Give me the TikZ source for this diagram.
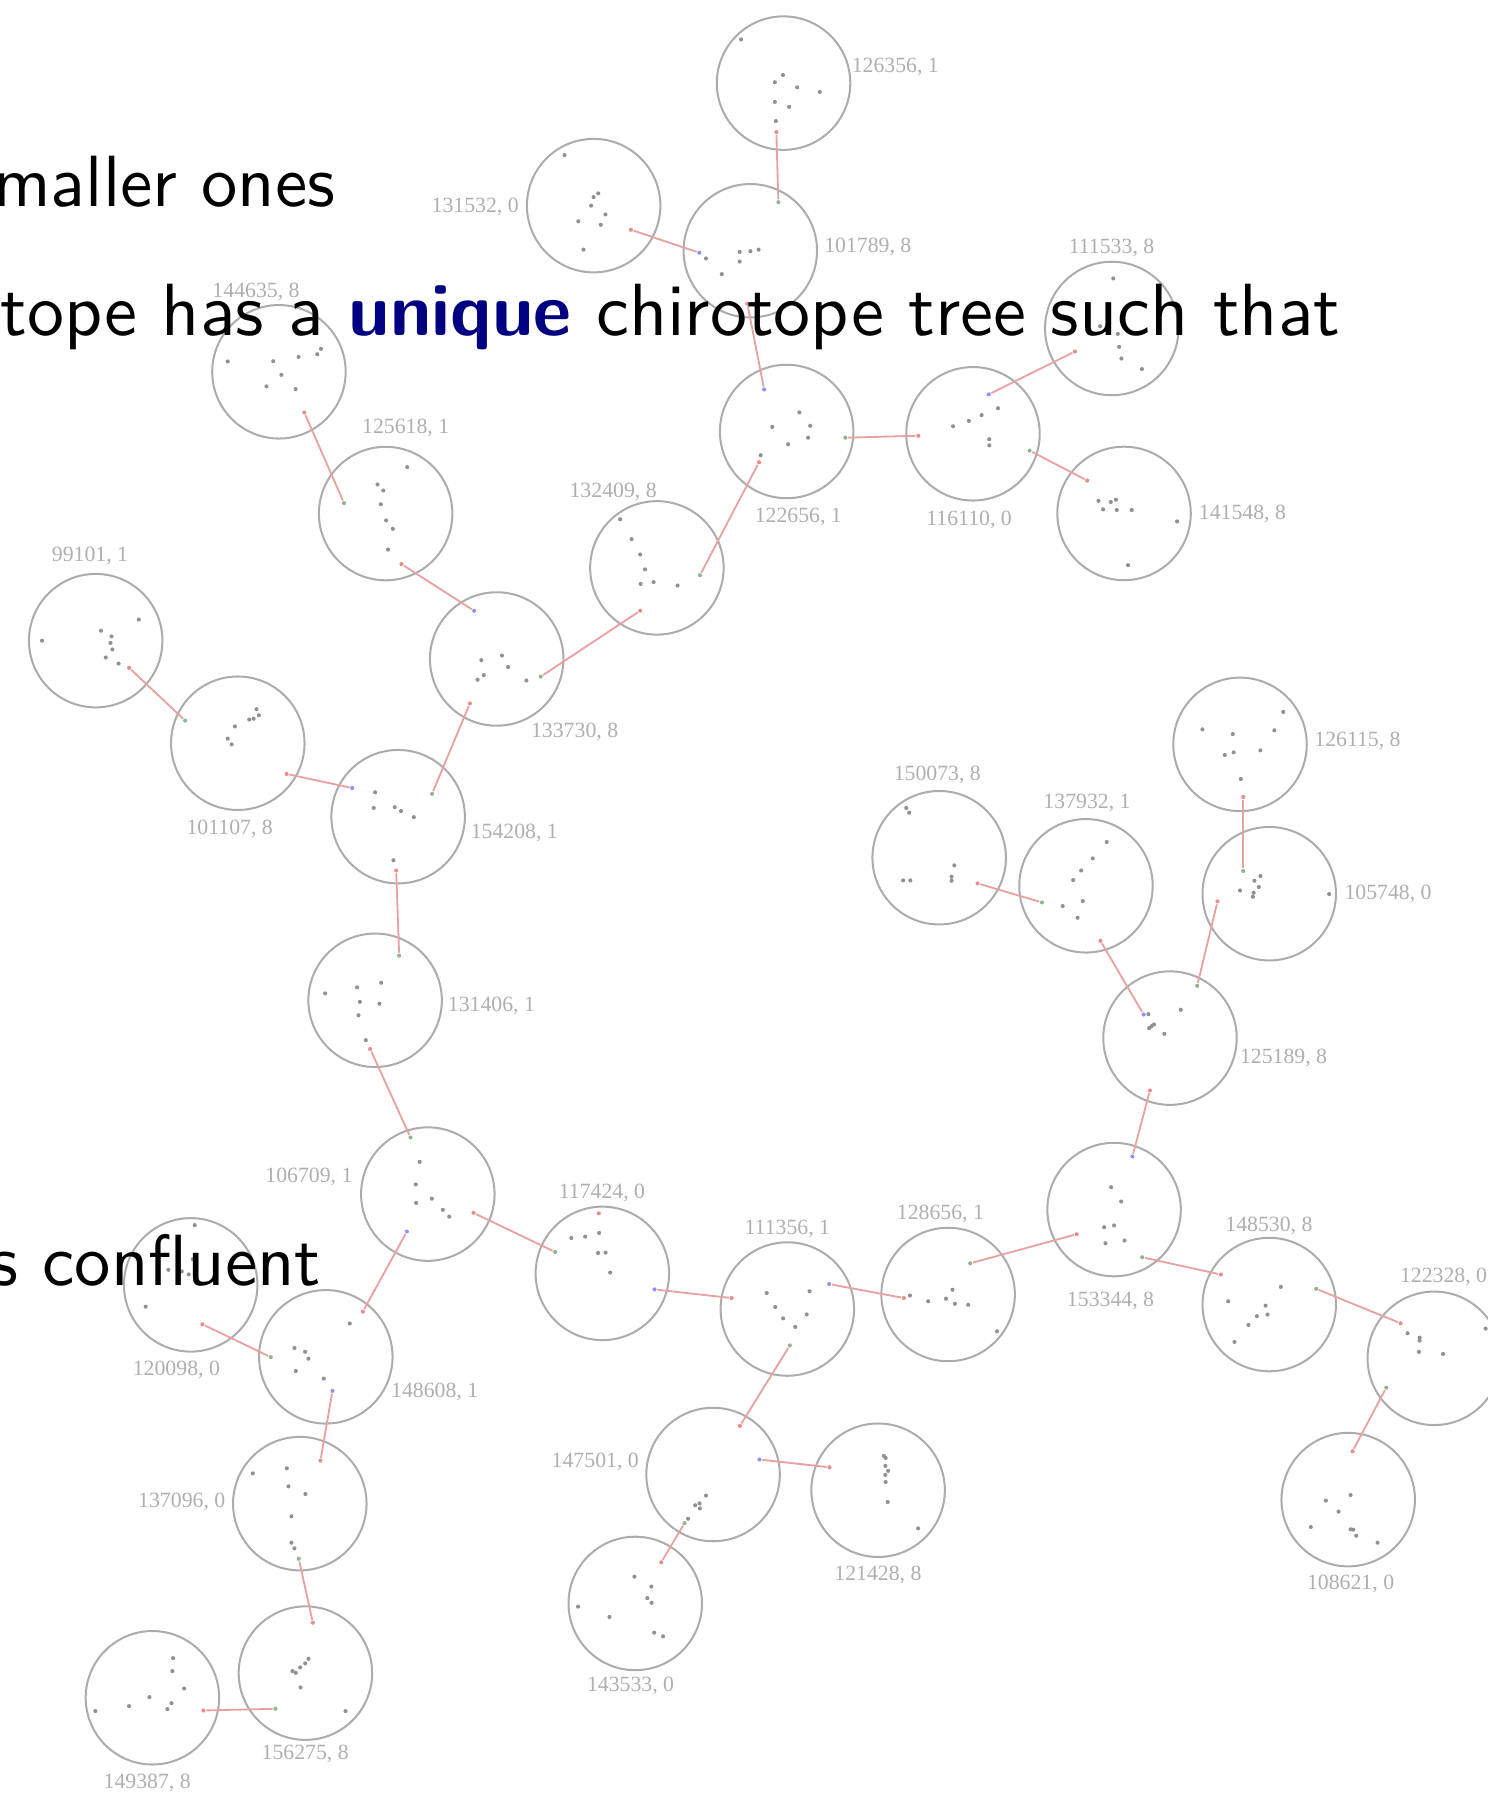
\documentclass[tikz,border=0pt]{standalone}
\usepackage{fontspec}
\usepackage{graphicx}
\newfontfamily\labelfont{Liberation Serif}

\definecolor{ringgray}{RGB}{172,172,172}
\definecolor{dotgray}{RGB}{145,145,145}
\definecolor{labelgray}{RGB}{175,175,175}
\definecolor{edgepink}{RGB}{232,160,160}
\definecolor{dotpink}{RGB}{232,140,140}
\definecolor{dotgreen}{RGB}{145,180,145}
\definecolor{dotblue}{RGB}{145,145,250}
\definecolor{navy}{RGB}{0,0,128}

\tikzset{
  chiro/.style={circle, draw=ringgray, line width=0.5pt, minimum size=1.164cm, inner sep=0pt},
  lbl/.style={font=\labelfont\fontsize{5.4}{6}\selectfont, text=labelgray, inner sep=0pt},
  pinkpt/.style={circle, fill=dotpink, minimum size=0.036cm, inner sep=0pt},
  greenpt/.style={circle, fill=dotgreen, minimum size=0.036cm, inner sep=0pt},
  bluept/.style={circle, fill=dotblue, minimum size=0.036cm, inner sep=0pt},
  edge/.style={draw=edgepink, line width=0.45pt},
  slide/.style={font=\sffamily\fontsize{10}{12}\selectfont, inner sep=0pt, anchor=base east}
}

\begin{document}
\begin{tikzpicture}[x=0.01cm, y=-0.01cm]
    \useasboundingbox (0,0) rectangle (1298,1568);

    % 126356
    \node[chiro] (c126356) at (683.7,72.5) {};
    \node[lbl] (l126356) at (781.2,58.5) {126356, 1};
    \foreach \p in {(646.6,34.4),(683.2,65.5),(676.1,71.8),(695.6,76.2),(715.3,80.2),(676.1,88.9),(688.6,93.2),(677,105.6)}
        \fill[dotgray] \p circle (1.8);
    \node[pinkpt] (p126356) at (677.4,115.3) {};

    % 101789
    \node[chiro] (c101789) at (654.7,218.8) {};
    \node[lbl] (l101789) at (757.2,215.5) {101789, 8};
    \foreach \p in {(616,225.5),(645.4,219.8),(654.8,219.2),(661.9,217.8),(645.4,228.2),(629.8,239.2)}
        \fill[dotgray] \p circle (1.8);
    \node[greenpt] (g101789) at (679.2,176.4) {};
    \node[bluept] (b101789) at (610.2,220.5) {};
    \node[pinkpt] (p101789) at (652.1,265) {};

    % 131532
    \node[chiro] (c131532) at (518,179.4) {};
    \node[lbl] (l131532) at (414.6,180.4) {131532, 0};
    \foreach \p in {(492.6,135.3),(522,168.7),(518,172),(515.8,179.4),(528.3,187.1),(504.6,193.1),(524.2,196.1),(509.1,217.8)}
        \fill[dotgray] \p circle (1.8);
    \node[pinkpt] (p131532) at (550.5,200.5) {};

    % 111533
    \node[chiro] (c111533) at (970.1,286.6) {};
    \node[lbl] (l111533) at (969.9,216.5) {111533, 8};
    \foreach \p in {(971.4,242.9),(959.9,284.6),(975.4,291.3),(976.5,302.6),(978.5,312.8),(996.4,322)}
        \fill[dotgray] \p circle (1.8);
    \node[pinkpt] (p111533) at (938,306.7) {};

    % 122656
    \node[chiro] (c122656) at (686.4,376.5) {};
    \node[lbl] (l122656) at (696.6,451) {122656, 1};
    \foreach \p in {(697.5,359.8),(673.9,372.5),(706.9,371.5),(705.1,381.9),(687.7,387.6),(663.7,397.2)}
        \fill[dotgray] \p circle (1.8);
    \node[bluept] (b122656) at (666.8,339.8) {};
    \node[greenpt] (g122656) at (737.6,381.9) {};
    \node[pinkpt] (p122656) at (662.3,403.3) {};

    % 116110
    \node[chiro] (c116110) at (849,378.5) {};
    \node[lbl] (l116110) at (845.6,453.4) {116110, 0};
    \foreach \p in {(870.8,356.2),(856.5,362.2),(845.4,367.2),(831.6,371.9),(863.2,383.2),(863.2,388.6)}
        \fill[dotgray] \p circle (1.8);
    \node[pinkpt] (p116110) at (801.3,380.2) {};
    \node[bluept] (b116110) at (862.7,344.1) {};
    \node[greenpt] (g116110) at (898.4,393.2) {};

    % 141548
    \node[chiro] (c141548) at (980.8,448) {};
    \node[lbl] (l141548) at (1084.1,448.7) {141548, 8};
    \foreach \p in {(958.5,437),(969.2,438),(973.7,436),(962.5,444.4),(974.5,445),(987.5,445),(1027.1,455),(984.3,493.1)}
        \fill[dotgray] \p circle (1.8);
    \node[pinkpt] (p141548) at (948.7,419.3) {};

    % 132409
    \node[chiro] (c132409) at (573.2,495.5) {};
    \node[lbl] (l132409) at (535,429.3) {132409, 8};
    \foreach \p in {(541.1,453.1),(551.1,470.4),(558.6,483.8),(562.8,496.8),(559,509.5),(570.3,507.9),(591.2,510.9)}
        \fill[dotgray] \p circle (1.8);
    \node[greenpt] (g132409) at (610.8,501.9) {};
    \node[pinkpt] (p132409) at (558.6,532.9) {};

    % 144635
    \node[chiro] (c144635) at (243.4,324.4) {};
    \node[lbl] (l144635) at (223.4,254.5) {144635, 8};
    \foreach \p in {(198.7,315.4),(238.4,315.1),(260.5,311.4),(276.8,309.1),(280.1,304.4),(245.5,327.1),(232.5,337.1),(258,339.5)}
        \fill[dotgray] \p circle (1.8);
    \node[pinkpt] (p144635) at (265.5,359.9) {};

    % 125618
    \node[chiro] (c125618) at (336.5,448.1) {};
    \node[lbl] (l125618) at (354,373.6) {125618, 1};
    \foreach \p in {(355.3,407.6),(329.4,422.7),(334.4,428),(332.3,440),(336.9,454.1),(342.8,461.4),(338.6,479.5)}
        \fill[dotgray] \p circle (1.8);
    \node[greenpt] (g125618) at (300.2,439) {};
    \node[pinkpt] (p125618) at (350.3,492.2) {};

    % 133730
    \node[chiro] (c133730) at (433.4,575) {};
    \node[lbl] (l133730) at (501.4,638.5) {133730, 8};
    \foreach \p in {(420,576),(438,572),(443.4,582),(422.1,589.1),(416.7,593.1),(459.3,593.8)}
        \fill[dotgray] \p circle (1.8);
    \node[bluept] (b133730) at (413.7,532.9) {};
    \node[greenpt] (g133730) at (471.8,590.4) {};
    \node[pinkpt] (p133730) at (410,613.8) {};

    % 99101
    \node[chiro] (c99101) at (83.5,559) {};
    \node[lbl] (l99101) at (78.5,485.5) {99101, 1};
    \foreach \p in {(36.7,559),(121.1,540.6),(88.1,550.3),(97.3,555.3),(96.4,561),(98.1,566.7),(92.3,573.7),(103.5,579)}
        \fill[dotgray] \p circle (1.8);
    \node[pinkpt] (p99101) at (112.7,582.7) {};

    % 101107
    \node[chiro] (c101107) at (207.5,648.5) {};
    \node[lbl] (l101107) at (200.4,723.4) {101107, 8};
    \foreach \p in {(223.8,618.8),(225.9,624.1),(221.3,627.1),(217.5,627.8),(205,633.8),(198.7,644.5),(202.1,649.5)}
        \fill[dotgray] \p circle (1.8);
    \node[greenpt] (g101107) at (161.6,628.8) {};
    \node[pinkpt] (p101107) at (250.1,675.3) {};

    % 154208
    \node[chiro] (c154208) at (347.4,712.6) {};
    \node[lbl] (l154208) at (448.8,726.7) {154208, 1};
    \foreach \p in {(327.3,691.3),(326.1,705),(344.4,704.3),(349.9,707.7),(361.1,713),(343.3,750.6)}
        \fill[dotgray] \p circle (1.8);
    \node[bluept] (b154208) at (307.3,687.6) {};
    \node[greenpt] (g154208) at (377,692.6) {};
    \node[pinkpt] (p154208) at (345.7,759.6) {};

    % 131406
    \node[chiro] (c131406) at (327.3,872.8) {};
    \node[lbl] (l131406) at (428.8,877.5) {131406, 1};
    \foreach \p in {(283.7,866.8),(311.6,861.5),(332.6,857.5),(314,874.2),(331.1,875.8),(312.8,885.9),(319.2,907.6)}
        \fill[dotgray] \p circle (1.8);
    \node[greenpt] (g131406) at (348.3,833.8) {};
    \node[pinkpt] (p131406) at (323,915.3) {};

    % 106709
    \node[chiro] (c106709) at (373.3,1041.9) {};
    \node[lbl] (l106709) at (269.6,1026.9) {106709, 1};
    \foreach \p in {(366.2,1013.8),(362.8,1033.5),(363.1,1049.6),(376.8,1045.9),(386.4,1055.6),(392,1061.6)}
        \fill[dotgray] \p circle (1.8);
    \node[greenpt] (g106709) at (358.2,992.5) {};
    \node[pinkpt] (p106709) at (413.2,1058.3) {};
    \node[bluept] (b106709) at (355,1074.6) {};

    % 120098
    \node[chiro] (c120098) at (166.4,1121.1) {};
    \node[lbl] (l120098) at (153.9,1195.6) {120098, 0};
    \foreach \p in {(169.9,1069),(168.2,1098.7),(146.9,1108),(158.6,1109.4),(164.7,1112),(127.1,1140.1)}
        \fill[dotgray] \p circle (1.8);
    \node[pinkpt] (p120098) at (176.6,1155.5) {};

    % 148608
    \node[chiro] (c148608) at (284.3,1183.9) {};
    \node[lbl] (l148608) at (379.3,1214.6) {148608, 1};
    \foreach \p in {(305.2,1154.8),(256.9,1176.2),(266.2,1179.5),(269.1,1185.5),(258.1,1196.3),(282.5,1202.9)}
        \fill[dotgray] \p circle (1.8);
    \node[greenpt] (g148608) at (236.3,1184.2) {};
    \node[pinkpt] (p148608) at (316.6,1144.5) {};
    \node[bluept] (b148608) at (290.1,1213.6) {};

    % 137096
    \node[chiro] (c137096) at (261.6,1312) {};
    \node[lbl] (l137096) at (158.6,1310.6) {137096, 0};
    \foreach \p in {(220.6,1285.6),(250.3,1281.2),(251.7,1296.9),(266.5,1303.6),(254.3,1323.1),(254.3,1346.1),(256.9,1351)}
        \fill[dotgray] \p circle (1.8);
    \node[pinkpt] (p137096) at (279.6,1274.5) {};
    \node[greenpt] (g137096) at (260.7,1360.1) {};

    % 156275
    \node[chiro] (c156275) at (266.5,1459.9) {};
    \node[lbl] (l156275) at (266.3,1530.3) {156275, 8};
    \foreach \p in {(269.2,1447.4),(266.3,1451.4),(261.9,1454.9),(255.2,1458.1),(258.1,1459.6),(262.2,1472.4),(301.5,1493)}
        \fill[dotgray] \p circle (1.8);
    \node[pinkpt] (p156275) at (273,1415.9) {};
    \node[greenpt] (g156275) at (240.4,1491) {};

    % 149387
    \node[chiro] (c149387) at (133,1481.4) {};
    \node[lbl] (l149387) at (128.4,1555.6) {149387, 8};
    \foreach \p in {(151,1446.8),(150.4,1458.1),(160.6,1473.3),(130.4,1480.8),(112.6,1488.7),(149.6,1486.1),(146.1,1491.3),(83.2,1493)}
        \fill[dotgray] \p circle (1.8);
    \node[pinkpt] (p149387) at (177.5,1492.5) {};

    % 117424
    \node[chiro] (c117424) at (525.6,1111.1) {};
    \node[lbl] (l117424) at (525.3,1040.6) {117424, 0};
    \foreach \p in {(498.5,1080.2),(510.6,1079),(522.8,1075.8),(521.8,1093.3),(528.4,1093),(532.4,1110.4)}
        \fill[dotgray] \p circle (1.8);
    \node[pinkpt] (p117424) at (522.5,1058.7) {};
    \node[greenpt] (g117424) at (484.4,1092.4) {};
    \node[bluept] (b117424) at (571.1,1125.1) {};

    % 111356
    \node[chiro] (c111356) at (687,1142.2) {};
    \node[lbl] (l111356) at (687,1072.1) {111356, 1};
    \foreach \p in {(669,1128.2),(706.4,1126.7),(676.5,1140.4),(703.9,1146.9),(683.3,1150.3),(693.9,1157.8)}
        \fill[dotgray] \p circle (1.8);
    \node[pinkpt] (p111356) at (638.4,1132.6) {};
    \node[bluept] (b111356) at (723.5,1120.4) {};
    \node[greenpt] (g111356) at (689.2,1174) {};

    % 128656
    \node[chiro] (c128656) at (827.3,1129.5) {};
    \node[lbl] (l128656) at (820.6,1059.3) {128656, 1};
    \foreach \p in {(794,1130.4),(831.1,1125.4),(809.9,1135.4),(825.4,1133.2),(833.2,1137.6),(844.8,1138.5),(870,1161.6)}
        \fill[dotgray] \p circle (1.8);
    \node[pinkpt] (p128656) at (788.7,1132.6) {};
    \node[greenpt] (g128656) at (846.6,1102.3) {};

    % 147501
    \node[chiro] (c147501) at (622.2,1286.6) {};
    \node[lbl] (l147501) at (519.4,1275.3) {147501, 0};
    \foreach \p in {(616,1305),(606.6,1313.4),(610.4,1311.8),(610.7,1316.2),(600.4,1325.2)}
        \fill[dotgray] \p circle (1.8);
    \node[pinkpt] (p147501) at (645.6,1244.2) {};
    \node[bluept] (b147501) at (662.7,1273.5) {};
    \node[greenpt] (g147501) at (597.3,1329) {};

    % 121428
    \node[chiro] (c121428) at (766.2,1300.3) {};
    \node[lbl] (l121428) at (766.1,1374.5) {121428, 8};
    \foreach \p in {(771.2,1270.4),(772.8,1272.2),(772.5,1279.1),(775,1283.4),(772.5,1286.9),(772.8,1293.1),(774.6,1310.6),(801.1,1333.6)}
        \fill[dotgray] \p circle (1.8);
    \node[pinkpt] (p121428) at (723.8,1280.3) {};

    % 143533
    \node[chiro] (c143533) at (554.3,1399.1) {};
    \node[lbl] (l143533) at (550.2,1470.8) {143533, 0};
    \foreach \p in {(553.6,1375.7),(568.3,1384.4),(564.9,1394.4),(568.6,1398.5),(504.4,1401.9),(531.8,1410.9),(570.8,1424.6),(578.6,1427.8)}
        \fill[dotgray] \p circle (1.8);
    \node[pinkpt] (p143533) at (577,1363.2) {};

    % 150073
    \node[chiro] (c150073) at (819.5,748.4) {};
    \node[lbl] (l150073) at (817.9,676.5) {150073, 8};
    \foreach \p in {(790.8,705),(793.3,709.1),(832.7,755.1),(788,768.2),(794.3,768.2),(830.3,765),(830.3,768.5)}
        \fill[dotgray] \p circle (1.8);
    \node[pinkpt] (p150073) at (853,770.8) {};

    % 137932
    \node[chiro] (c137932) at (947.6,772.9) {};
    \node[lbl] (l137932) at (948.5,700.7) {137932, 1};
    \foreach \p in {(965.7,734.7),(953.5,749),(943.4,759.5),(936.4,767.9),(927.3,790.6),(944.8,786.2),(940.3,800.8)}
        \fill[dotgray] \p circle (1.8);
    \node[greenpt] (g137932) at (909.2,787.4) {};
    \node[pinkpt] (p137932) at (960.2,820.9) {};

    % 126115
    \node[chiro] (c126115) at (1082,649.5) {};
    \node[lbl] (l126115) at (1184.5,646.6) {126115, 8};
    \foreach \p in {(1119.7,621.2),(1049.2,636.4),(1075.7,640.5),(1112,637.2),(1068.7,658.8),(1076.4,656.5),(1099.8,654.7),(1082.7,679.7)}
        \fill[dotgray] \p circle (1.8);
    \node[pinkpt] (p126115) at (1084.8,695.4) {};

    % 105748
    \node[chiro] (c105748) at (1107.5,779.8) {};
    \node[lbl] (l105748) at (1211.2,780.1) {105748, 0};
    \foreach \p in {(1099.8,764.4),(1094.6,768.5),(1098.4,774),(1082,777),(1093.9,779),(1093.2,782.5),(1159.8,780.1)}
        \fill[dotgray] \p circle (1.8);
    \node[greenpt] (g105748) at (1084.8,760) {};
    \node[pinkpt] (p105748) at (1062.4,786.5) {};

    % 125189
    \node[chiro] (c125189) at (1020.9,905.8) {};
    \node[lbl] (l125189) at (1120,923.3) {125189, 8};
    \foreach \p in {(1002,884.9),(1030.3,881.1),(1002.7,897.1),(1004.8,895.4),(1006.9,893.9),(1016,902.1)}
        \fill[dotgray] \p circle (1.8);
    \node[greenpt] (g125189) at (1044.6,860.2) {};
    \node[bluept] (b125189) at (997.9,885.2) {};
    \node[pinkpt] (p125189) at (1003.4,951.5) {};

    % 153344
    \node[chiro] (c153344) at (972.1,1055.4) {};
    \node[lbl] (l153344) at (969,1134.8) {153344, 8};
    \foreach \p in {(969.5,1035.9),(978.3,1048.4),(963.4,1070.8),(972.1,1069.3),(964.6,1084.8),(981.2,1082.4)}
        \fill[dotgray] \p circle (1.8);
    \node[bluept] (b153344) at (988.1,1009.1) {};
    \node[pinkpt] (p153344) at (939.5,1076.9) {};
    \node[greenpt] (g153344) at (996.6,1097) {};

    % 148530
    \node[chiro] (c148530) at (1107.5,1138.3) {};
    \node[lbl] (l148530) at (1107.2,1069.3) {148530, 8};
    \foreach \p in {(1117.6,1122.9),(1071.7,1135.4),(1104.3,1139.2),(1096.7,1148.5),(1106,1147),(1089.4,1156.1),(1077.2,1170.9)}
        \fill[dotgray] \p circle (1.8);
    \node[pinkpt] (p148530) at (1065.3,1112.1) {};
    \node[greenpt] (g148530) at (1148.5,1124.6) {};

    % 122328
    \node[chiro] (c122328) at (1251.5,1185.2) {};
    \node[lbl] (l122328) at (1259.6,1114.4) {122328, 0};
    \foreach \p in {(1228.2,1163.3),(1238.7,1167.1),(1238.7,1169.7),(1238.1,1179.6),(1259.1,1181.4),(1296.3,1159.3)}
        \fill[dotgray] \p circle (1.8);
    \node[pinkpt] (p122328) at (1222.1,1154.6) {};
    \node[greenpt] (g122328) at (1209.6,1210.8) {};

    % 108621
    \node[chiro] (c108621) at (1176.4,1308.5) {};
    \node[lbl] (l108621) at (1178.5,1382.2) {108621, 0};
    \foreach \p in {(1178.5,1304.5),(1156.9,1309.4),(1168,1319),(1143.8,1332.4),(1178.5,1334.4),(1180.8,1334.7),(1183.4,1340),(1202,1346.1)}
        \fill[dotgray] \p circle (1.8);
    \node[pinkpt] (p108621) at (1180.2,1266.3) {};

    % Tree edges
    \draw[edge] (p126356) -- (g101789);
    \draw[edge] (p131532) -- (b101789);
    \draw[edge] (p101789) -- (b122656);
    \draw[edge] (p111533) -- (b116110);
    \draw[edge] (p116110) -- (g122656);
    \draw[edge] (p141548) -- (g116110);
    \draw[edge] (p122656) -- (g132409);
    \draw[edge] (p132409) -- (g133730);
    \draw[edge] (p144635) -- (g125618);
    \draw[edge] (p125618) -- (b133730);
    \draw[edge] (p133730) -- (g154208);
    \draw[edge] (p99101) -- (g101107);
    \draw[edge] (p101107) -- (b154208);
    \draw[edge] (p154208) -- (g131406);
    \draw[edge] (p131406) -- (g106709);
    \draw[edge] (p106709) -- (g117424);
    \draw[edge] (p148608) -- (b106709);
    \draw[edge] (p120098) -- (g148608);
    \draw[edge] (p137096) -- (b148608);
    \draw[edge] (p156275) -- (g137096);
    \draw[edge] (p149387) -- (g156275);
    \draw[edge] (p111356) -- (b117424);
    \draw[edge] (p128656) -- (b111356);
    \draw[edge] (p147501) -- (g111356);
    \draw[edge] (p121428) -- (b147501);
    \draw[edge] (p143533) -- (g147501);
    \draw[edge] (p153344) -- (g128656);
    \draw[edge] (p125189) -- (b153344);
    \draw[edge] (p137932) -- (b125189);
    \draw[edge] (p105748) -- (g125189);
    \draw[edge] (p126115) -- (g105748);
    \draw[edge] (p150073) -- (g137932);
    \draw[edge] (p148530) -- (g153344);
    \draw[edge] (p122328) -- (g148530);
    \draw[edge] (p108621) -- (g122328);

    % Slide text
    \node[slide] (line1) at (293.3,180.4) {\scalebox{1.8}{maller ones}};
    \node[slide] (line2) at (1170.3,292.7) {\scalebox{1.835}{tope has a \textcolor{navy}{\textbf{unique}} chirotope tree such that}};
    \node[slide] (line3) at (280.8,1121.7) {\scalebox{1.8}{s confluent}};
\end{tikzpicture}
\end{document}
